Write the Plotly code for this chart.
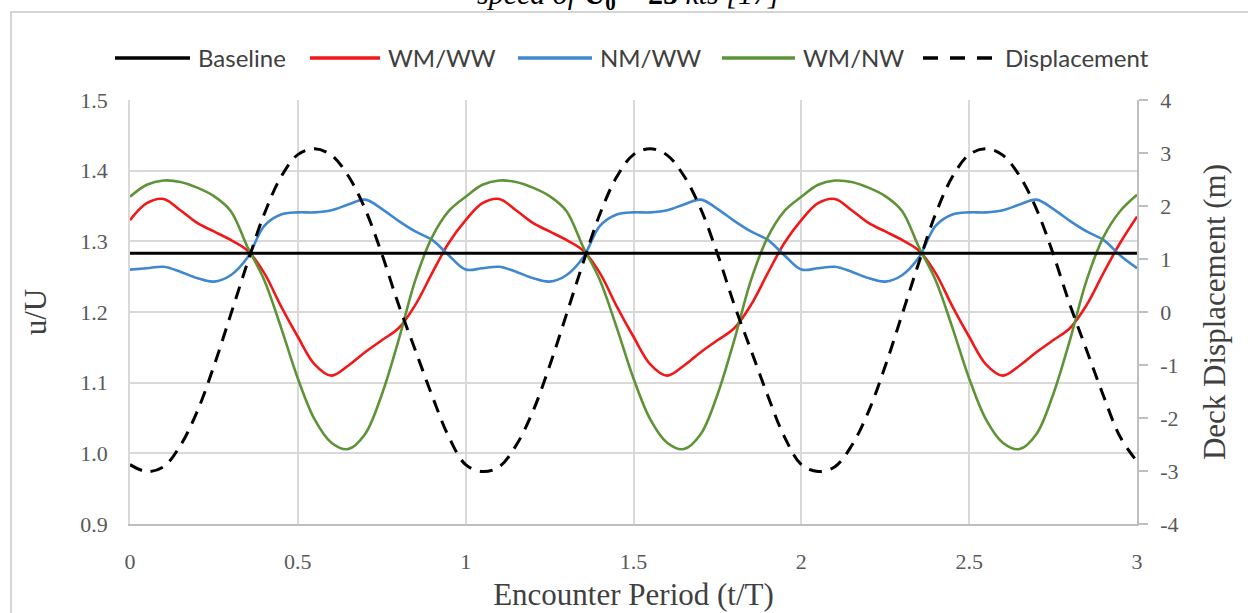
import plotly.graph_objects as go

# encounter period samples (t/T)
t = [0.00, 0.05, 0.10, 0.15, 0.20, 0.25, 0.30, 0.35, 0.40, 0.45,
     0.50, 0.55, 0.60, 0.65, 0.70, 0.75, 0.80, 0.85, 0.90, 0.95,
     1.00, 1.05, 1.10, 1.15, 1.20, 1.25, 1.30, 1.35, 1.40, 1.45,
     1.50, 1.55, 1.60, 1.65, 1.70, 1.75, 1.80, 1.85, 1.90, 1.95,
     2.00, 2.05, 2.10, 2.15, 2.20, 2.25, 2.30, 2.35, 2.40, 2.45,
     2.50, 2.55, 2.60, 2.65, 2.70, 2.75, 2.80, 2.85, 2.90, 2.95,
     3.00]

baseline_t = [0, 3]
baseline_u = [1.283, 1.283]

wm_ww = [1.330, 1.354, 1.360, 1.344, 1.326, 1.314, 1.302, 1.287, 1.255, 1.208,
         1.165, 1.126, 1.110, 1.124, 1.143, 1.160, 1.177, 1.210, 1.255, 1.298,
         1.330, 1.354, 1.360, 1.344, 1.326, 1.314, 1.302, 1.287, 1.255, 1.208,
         1.165, 1.126, 1.110, 1.124, 1.143, 1.160, 1.177, 1.210, 1.255, 1.298,
         1.330, 1.354, 1.360, 1.344, 1.326, 1.314, 1.302, 1.287, 1.255, 1.208,
         1.165, 1.126, 1.110, 1.124, 1.143, 1.160, 1.177, 1.210, 1.255, 1.298,
         1.335]

nm_ww = [1.260, 1.262, 1.264, 1.257, 1.248, 1.243, 1.252, 1.277, 1.322, 1.338,
         1.341, 1.341, 1.344, 1.352, 1.359, 1.346, 1.329, 1.314, 1.302, 1.280,
         1.260, 1.262, 1.264, 1.257, 1.248, 1.243, 1.252, 1.277, 1.322, 1.338,
         1.341, 1.341, 1.344, 1.352, 1.359, 1.346, 1.329, 1.314, 1.302, 1.280,
         1.260, 1.262, 1.264, 1.257, 1.248, 1.243, 1.252, 1.277, 1.322, 1.338,
         1.341, 1.341, 1.344, 1.352, 1.359, 1.346, 1.329, 1.314, 1.302, 1.280,
         1.262]

wm_nw = [1.363, 1.380, 1.386, 1.384, 1.376, 1.364, 1.343, 1.292, 1.245, 1.178,
         1.106, 1.048, 1.015, 1.006, 1.027, 1.083, 1.160, 1.245, 1.306, 1.343,
         1.363, 1.380, 1.386, 1.384, 1.376, 1.364, 1.343, 1.292, 1.245, 1.178,
         1.106, 1.048, 1.015, 1.006, 1.027, 1.083, 1.160, 1.245, 1.306, 1.343,
         1.363, 1.380, 1.386, 1.384, 1.376, 1.364, 1.343, 1.292, 1.245, 1.178,
         1.106, 1.048, 1.015, 1.006, 1.027, 1.083, 1.160, 1.245, 1.306, 1.343,
         1.366]

displacement = [-2.88, -3.01, -2.92, -2.52, -1.88, -1.02, -0.05, 0.93, 1.85, 2.55,
                2.97, 3.08, 2.96, 2.57, 1.95, 1.10, 0.14, -0.72, -1.58, -2.36,
                -2.88, -3.01, -2.92, -2.52, -1.88, -1.02, -0.05, 0.93, 1.85, 2.55,
                2.97, 3.08, 2.96, 2.57, 1.95, 1.10, 0.14, -0.72, -1.58, -2.36,
                -2.88, -3.01, -2.92, -2.52, -1.88, -1.02, -0.05, 0.93, 1.85, 2.55,
                2.97, 3.08, 2.96, 2.57, 1.95, 1.10, 0.14, -0.72, -1.58, -2.36,
                -2.82]

right_tickvals = [-4, -3, -2, -1, 0, 1, 2, 3, 4]
right_ticktext = ["-4", "-3", "-2", "-1", "0", "1", "2", "3", "4"]

RED = "#f01818"
BLUE = "#3f87cf"
GREEN = "#5e9437"
GRID = "#d9d9d9"
AXIS = "#bfbfbf"
SERIF = "Liberation Serif"

# plot area in pixels
L, R, T, B = 130, 111, 100, 89
W, H = 1248, 613
PW, PH = W - L - R, H - T - B


def px(x):
    return (x - L) / PW


def py(y):
    return (H - B - y) / PH


fig = go.Figure()
fig.add_trace(go.Scatter(x=t, y=wm_ww, mode="lines", name="WM/WW",
                         line=dict(color=RED, width=2.6, shape="spline")))
fig.add_trace(go.Scatter(x=t, y=nm_ww, mode="lines", name="NM/WW",
                         line=dict(color=BLUE, width=2.6, shape="spline")))
fig.add_trace(go.Scatter(x=t, y=wm_nw, mode="lines", name="WM/NW",
                         line=dict(color=GREEN, width=2.6, shape="spline")))
fig.add_trace(go.Scatter(x=baseline_t, y=baseline_u, mode="lines", name="Baseline",
                         line=dict(color="black", width=3)))
fig.add_trace(go.Scatter(x=t, y=displacement, mode="lines", name="Displacement",
                         yaxis="y2",
                         line=dict(color="black", width=3, dash="13px,9px", shape="spline")))
fig.update_traces(showlegend=False, hoverinfo="skip")

# legend drawn by hand so the line samples are as long as in the original
legend_items = [
    ("Baseline", 115, 190, "black", "solid"),
    ("WM/WW", 310, 380, RED, "solid"),
    ("NM/WW", 518, 592, BLUE, "solid"),
    ("WM/NW", 722, 795, GREEN, "solid"),
    ("Displacement", 923, 997, "black", "15px,12px"),
]
shapes = []
annotations = []
ly = 58
for name, x0, x1, col, dash in legend_items:
    shapes.append(dict(type="line", xref="paper", yref="paper",
                       x0=px(x0), x1=px(x1), y0=py(ly), y1=py(ly),
                       line=dict(color=col, width=3.5, dash=dash)))
    annotations.append(dict(xref="paper", yref="paper", x=px(x1 + 6), y=py(ly),
                            xanchor="left", yanchor="middle", showarrow=False,
                            text=name, font=dict(family="Lato", size=24, color="#404040")))

# outer frame of the original figure
shapes.append(dict(type="rect", xref="paper", yref="paper",
                   x0=px(11), x1=px(1300), y0=py(12), y1=py(700),
                   line=dict(color="#c8c8c8", width=1.5), layer="below"))

# caption cut off at the top edge, as in the original
annotations.append(dict(xref="paper", yref="paper", x=px(628), y=py(17),
                        xanchor="center", yanchor="bottom", showarrow=False,
                        text="<i>speed of </i><b>U<sub>0</sub> = 25</b><i> kts [17]</i>",
                        font=dict(family=SERIF, size=30, color="black")))

fig.update_layout(
    width=W, height=H,
    margin=dict(l=L, r=R, t=T, b=B),
    paper_bgcolor="white", plot_bgcolor="white",
    showlegend=False,
    shapes=shapes, annotations=annotations,
    xaxis=dict(range=[0, 3], dtick=0.5, showgrid=True, gridcolor=GRID, gridwidth=1.5,
               zeroline=False, showline=True, linecolor=AXIS, linewidth=1.5,
               ticks="", ticklabelstandoff=17, automargin=False,
               tickfont=dict(family=SERIF, size=22, color="#595959"),
               title=dict(text="Encounter Period (t/T)", standoff=10,
                          font=dict(family=SERIF, size=31, color="#404040"))),
    yaxis=dict(range=[0.9, 1.5], dtick=0.1, tickformat=".1f", showgrid=True,
               gridcolor=GRID, gridwidth=1.5, zeroline=False, showline=True,
               linecolor=GRID, linewidth=1.5, ticks="", ticklabelstandoff=16,
               automargin=False,
               tickfont=dict(family=SERIF, size=22, color="#595959"),
               title=dict(text="u/U", standoff=24,
                          font=dict(family=SERIF, size=31, color="#404040"))),
    yaxis2=dict(range=[-4, 4], overlaying="y", side="right", showgrid=False,
                zeroline=False, showline=True, linecolor=AXIS, linewidth=1.5,
                tickvals=right_tickvals, ticktext=right_ticktext,
                ticks="outside", ticklen=9, tickcolor=AXIS, tickwidth=1.5,
                ticklabelstandoff=8, automargin=False,
                tickfont=dict(family=SERIF, size=22, color="#595959"),
                title=dict(text="Deck Displacement (m)", standoff=26,
                           font=dict(family=SERIF, size=31, color="#404040"))),
)

fig.write_html("out.html", config={"displayModeBar": False},
               post_script="document.body.style.margin='0';")
